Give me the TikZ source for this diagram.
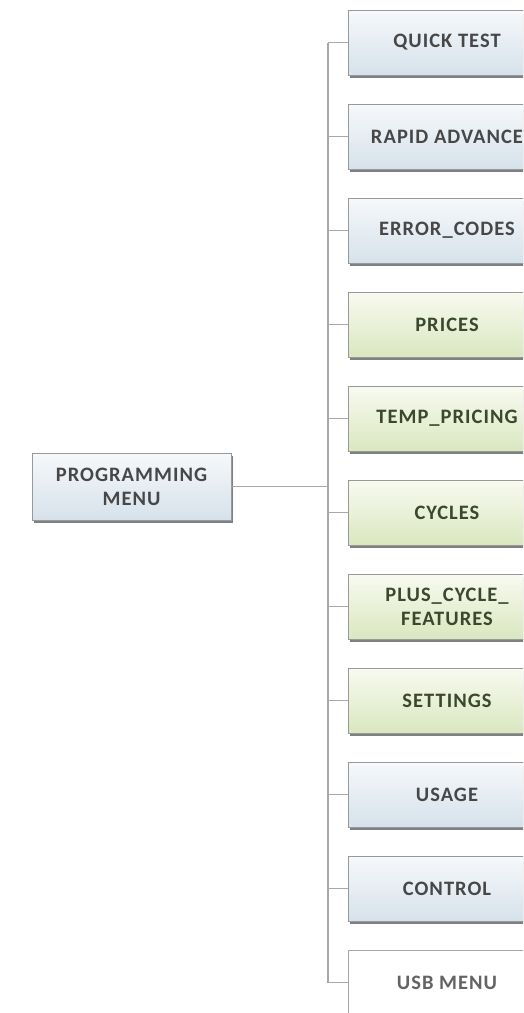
\documentclass[tikz,border=0pt]{standalone}
\usepackage{fontspec}
\newfontfamily\boxfont[LetterSpace=5]{Carlito}
\usepackage{tikz}
\usetikzlibrary{shadows,calc}
\definecolor{txtgray}{HTML}{474747}
\definecolor{txtgreen}{HTML}{3B482D}
\definecolor{wiregray}{HTML}{A8A8A8}
\definecolor{bluetop}{HTML}{F6F8FA}
\definecolor{bluebot}{HTML}{D6E2EB}
\definecolor{greentop}{HTML}{F8FAF0}
\definecolor{greenbot}{HTML}{DAE7C0}
\tikzset{
  mbox/.style={draw=black!40,line width=0.8pt,minimum width=198pt,minimum height=65pt,inner sep=2pt,align=center,
    font=\boxfont\bfseries\fontsize{20.5}{24}\selectfont,
    drop shadow={shadow xshift=1.5pt,shadow yshift=-3pt,fill=black!50,opacity=1}},
  bluebox/.style={mbox,top color=bluetop,bottom color=bluebot,text=txtgray},
  greenbox/.style={mbox,top color=greentop,bottom color=greenbot,text=txtgreen},
  plainbox/.style={draw=black!35,line width=0.8pt,fill=white,minimum width=198pt,minimum height=65pt,align=center,
    font=\boxfont\bfseries\fontsize{20.5}{24}\selectfont,text=txtgray!85},
  wire/.style={draw=wiregray,line width=1.4pt},
}
\begin{document}
\begin{tikzpicture}[x=1pt,y=-1pt]
\clip (0,0) rectangle (523,1013);
\fill[white] (0,0) rectangle (523,1013);
% menu items down the right side
\foreach \i/\lbl/\sty in {0/QUICK TEST/bluebox,1/RAPID ADVANCE/bluebox,2/ERROR\_CODES/bluebox,
  3/PRICES/greenbox,4/TEMP\_PRICING/greenbox,5/CYCLES/greenbox,6/{PLUS\_CYCLE\_\\FEATURES}/greenbox,
  7/SETTINGS/greenbox,8/USAGE/bluebox,9/CONTROL/bluebox,10/USB MENU/plainbox}
  \node[\sty] (item\i) at (447,{42.5+94*\i}) {\lbl};
\node[bluebox,minimum width=199pt,minimum height=67pt] (menu) at (131.5,486.5) {PROGRAMMING\\MENU};
\coordinate (bustop) at (328,42.5);
\coordinate (busbot) at (328,982.5);
\draw[wire] (bustop) -- (busbot);
\foreach \i in {0,...,10} \draw[wire] (item\i.west) -- (item\i.west -| bustop);
\draw[wire] (menu.east) -- (menu.east -| bustop);
\end{tikzpicture}
\end{document}
